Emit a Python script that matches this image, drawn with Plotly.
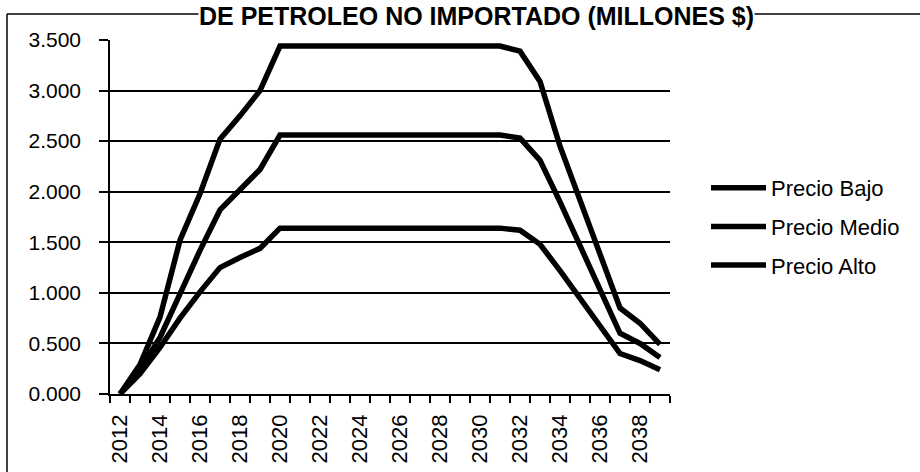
import plotly.graph_objects as go

years = list(range(2012, 2040))
tick_years = list(range(2012, 2040, 2))
tick_labels = [str(y) for y in tick_years]

precio_bajo = [0.000, 0.20, 0.46, 0.75, 1.01, 1.25, 1.35, 1.44,
               1.64, 1.64, 1.64, 1.64, 1.64, 1.64, 1.64, 1.64, 1.64, 1.64, 1.64, 1.64,
               1.62, 1.48, 1.22, 0.95, 0.67, 0.40, 0.33, 0.24]
precio_medio = [0.000, 0.24, 0.56, 1.00, 1.42, 1.82, 2.02, 2.22,
                2.56, 2.56, 2.56, 2.56, 2.56, 2.56, 2.56, 2.56, 2.56, 2.56, 2.56, 2.56,
                2.53, 2.31, 1.90, 1.46, 1.03, 0.60, 0.50, 0.36]
precio_alto = [0.000, 0.29, 0.76, 1.52, 1.98, 2.52, 2.75, 3.00,
               3.44, 3.44, 3.44, 3.44, 3.44, 3.44, 3.44, 3.44, 3.44, 3.44, 3.44, 3.44,
               3.39, 3.09, 2.45, 1.92, 1.39, 0.85, 0.70, 0.49]

series_names = ["Precio Bajo", "Precio Medio", "Precio Alto"]
series_values = [precio_bajo, precio_medio, precio_alto]

FONT = "Liberation Sans, Arial, sans-serif"

fig = go.Figure()
for name, vals in zip(series_names, series_values):
    fig.add_trace(go.Scatter(
        x=years, y=vals, mode="lines", name=name, legendgroup=name,
        line=dict(color="black", width=5.5),
    ))

W, H = 920, 472
L, R, T, B = 110, 250, 40, 78
pw, ph = W - L - R, H - T - B

def px(xp):
    return (xp - L) / pw

def py(yp):
    return 1 - (yp - T) / ph

fig.update_layout(
    width=W, height=H,
    margin=dict(l=L, r=R, t=T, b=B, autoexpand=False),
    paper_bgcolor="white", plot_bgcolor="white",
    font=dict(family=FONT, color="black"),
    showlegend=True,
    legend=dict(
        x=px(706), y=py(167), xanchor="left", yanchor="top",
        font=dict(size=22, color="black", family=FONT),
        tracegroupgap=7, bgcolor="rgba(0,0,0,0)",
        itemwidth=55,
    ),
    xaxis=dict(
        range=[2011.5, 2039.5],
        tickmode="array", tickvals=tick_years, ticktext=tick_labels,
        ticks="", tickangle=-90,
        tickfont=dict(size=22, color="black", family=FONT),
        showline=True, linecolor="black", linewidth=1.5,
        showgrid=False, zeroline=False, automargin=False,
        minor=dict(ticks="outside", tick0=2011.5, dtick=1, ticklen=7,
                   tickcolor="black", tickwidth=1.5, showgrid=False),
        ticklabelstandoff=10,
    ),
    yaxis=dict(
        range=[0, 3.5], tick0=0, dtick=0.5, tickformat=".3f",
        ticks="outside", ticklen=9, tickcolor="black", tickwidth=1.5,
        tickfont=dict(size=21, color="black", family=FONT),
        showline=True, linecolor="black", linewidth=1.5,
        showgrid=True, gridcolor="black", gridwidth=1.5,
        zeroline=False, automargin=False,
        ticklabelstandoff=14,
    ),
    shapes=[
        dict(type="line", xref="paper", yref="paper",
             x0=px(7), x1=px(7), y0=py(14), y1=py(480),
             line=dict(color="black", width=1.5)),
        dict(type="line", xref="paper", yref="paper",
             x0=px(7), x1=px(925), y0=py(14), y1=py(14),
             line=dict(color="black", width=1.5)),
    ],
    annotations=[
        dict(text="<b>DE PETROLEO NO IMPORTADO (MILLONES $)</b>",
             xref="paper", yref="paper", x=px(476), y=py(16),
             xanchor="center", yanchor="middle", showarrow=False,
             font=dict(size=25, color="black", family=FONT),
             bgcolor="white", borderpad=0),
    ],
)

fig.write_html("out.html", config={"displayModeBar": False},
               post_script="document.body.style.margin='0px';")
